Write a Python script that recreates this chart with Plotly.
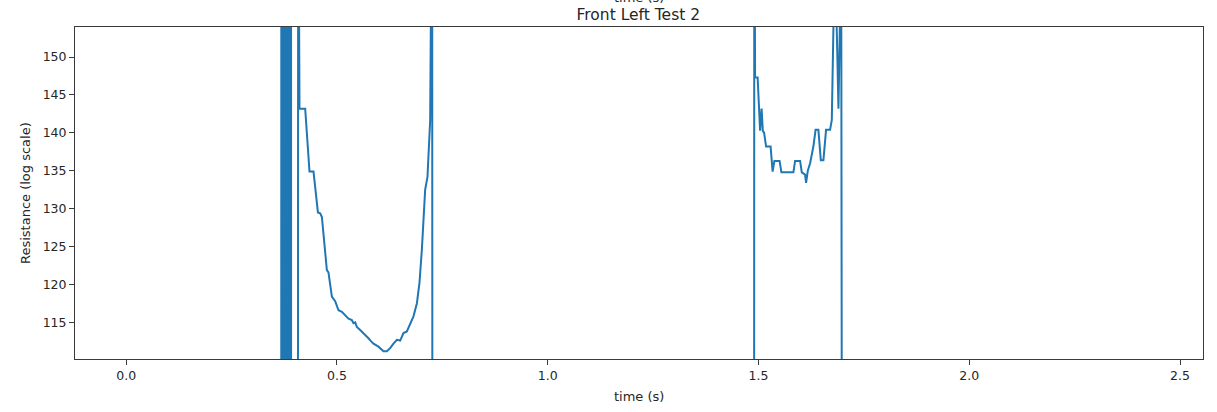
import plotly.graph_objects as go

# ---- data (time in s, resistance reading) ----
# baseline readings (off-scale low) and spikes (off-scale high)
base_time = [0.0, 0.3600]
base_res = [0.0, 0.0]

spike_time = [0.3675, 0.3680, 0.3692, 0.3704, 0.3716, 0.3728, 0.3740, 0.3752, 0.3764, 0.3772, 0.3776,
              0.3786, 0.3790, 0.3802, 0.3814, 0.3826, 0.3838, 0.3850, 0.3862, 0.3874, 0.3886, 0.3898,
              0.3910, 0.3914, 0.4066, 0.4080]
spike_res = [0, 180, 0, 180, 0, 180, 0, 180, 0, 180, 0,
             0, 180, 0, 180, 0, 180, 0, 180, 0, 180, 0,
             180, 0, 0, 180]

step1_time = [0.4111, 0.4246, 0.4348, 0.4443, 0.4548, 0.4602, 0.4642, 0.4760, 0.4798, 0.4879,
              0.4957, 0.5036, 0.5116, 0.5195, 0.5273, 0.5353, 0.5391, 0.5432, 0.5472, 0.5550,
              0.5629, 0.5693, 0.5747, 0.5811, 0.5866, 0.5984, 0.6065, 0.6103, 0.6183, 0.6262,
              0.6340, 0.6421, 0.6499, 0.6578, 0.6658, 0.6736, 0.6815, 0.6895, 0.6957, 0.7014,
              0.7052, 0.7092, 0.7147, 0.7173, 0.7211, 0.7258, 0.7268]
step1_res = [143.2, 143.2, 134.9, 134.9, 129.5, 129.4, 128.9, 121.9, 121.6, 118.4,
             117.8, 116.6, 116.4, 116.0, 115.5, 115.3, 114.9, 115.0, 114.4, 114.0,
             113.6, 113.2, 112.9, 112.5, 112.2, 111.8, 111.4, 111.2, 111.2, 111.6,
             112.2, 112.7, 112.6, 113.6, 113.8, 114.7, 115.8, 117.5, 120.2, 124.6,
             128.9, 132.5, 134.2, 137.5, 141.7, 180, 0]

step2_time = [1.4891, 1.4900, 1.4919, 1.4979, 1.5038, 1.5073, 1.5102, 1.5133, 1.5180, 1.5287,
              1.5335, 1.5377, 1.5500, 1.5543, 1.5828, 1.5868, 1.5987, 1.6027, 1.6105, 1.6129,
              1.6169, 1.6224, 1.6302, 1.6354, 1.6421, 1.6478, 1.6540, 1.6603, 1.6698, 1.6739,
              1.6812, 1.6897, 1.6962, 1.6998]
step2_res = [0, 180, 147.3, 147.3, 140.3, 143.2, 140.3, 140.0, 138.2, 138.2,
             134.9, 136.3, 136.3, 134.8, 134.8, 136.3, 136.3, 134.8, 134.5, 133.4,
             135.0, 136.0, 138.2, 140.4, 140.4, 136.4, 136.4, 140.4, 140.4, 141.7,
             165, 143.2, 165, 0]

end_time = [2.4330]
end_res = [0.0]

time_s = base_time + spike_time + step1_time + step2_time + end_time
resistance = base_res + spike_res + step1_res + step2_res + end_res

x_ticks = [0.0, 0.5, 1.0, 1.5, 2.0, 2.5]
y_ticks = [115, 120, 125, 130, 135, 140, 145, 150]

FONT = "DejaVu Sans"
INK = "#262626"

fig = go.Figure()
fig.add_trace(go.Scatter(
    x=time_s, y=resistance, mode="lines",
    line=dict(color="#1f77b4", width=2),
    showlegend=False, hoverinfo="skip",
))

axis_common = dict(
    showline=True, linecolor="#3a3a3a", linewidth=1, mirror=True,
    ticks="outside", ticklen=5, tickwidth=1, tickcolor="#3a3a3a",
    showgrid=False, zeroline=False, automargin=False,
    tickfont=dict(family=FONT, size=12.5, color=INK),
)

fig.update_layout(
    width=1217, height=412,
    margin=dict(l=75, r=14, t=27, b=53, autoexpand=False),
    paper_bgcolor="white", plot_bgcolor="white",
    xaxis=dict(range=[-0.1215, 2.5545], tickvals=x_ticks,
               ticktext=[f"{v:.1f}" for v in x_ticks], **axis_common),
    yaxis=dict(range=[110.17, 153.97], tickvals=y_ticks,
               ticktext=[str(v) for v in y_ticks], **axis_common),
    title=dict(text="Front Left Test 2", x=0.5245, xanchor="center",
               y=1 - 15 / 412, yanchor="middle", automargin=False,
               font=dict(family=FONT, size=15.5, color=INK)),
    annotations=[
        dict(text="time (s)", xref="paper", yref="paper", x=0.5, y=-0.085,
             xanchor="center", yanchor="top", showarrow=False,
             font=dict(family=FONT, size=13, color=INK)),
        dict(text="Resistance (log scale)", xref="paper", yref="paper",
             x=-0.0443, y=0.5, xanchor="center", yanchor="middle",
             textangle=-90, showarrow=False,
             font=dict(family=FONT, size=13, color=INK)),
        # clipped x-label of the subplot above
        dict(text="time (s)", xref="paper", yref="paper", x=0.5, y=1.06,
             xanchor="center", yanchor="bottom", showarrow=False,
             font=dict(family=FONT, size=13, color=INK)),
    ],
)

fig.write_html("out.html",
               config={"displayModeBar": False},
               post_script="document.body.style.margin='0';document.body.style.overflow='hidden';")
